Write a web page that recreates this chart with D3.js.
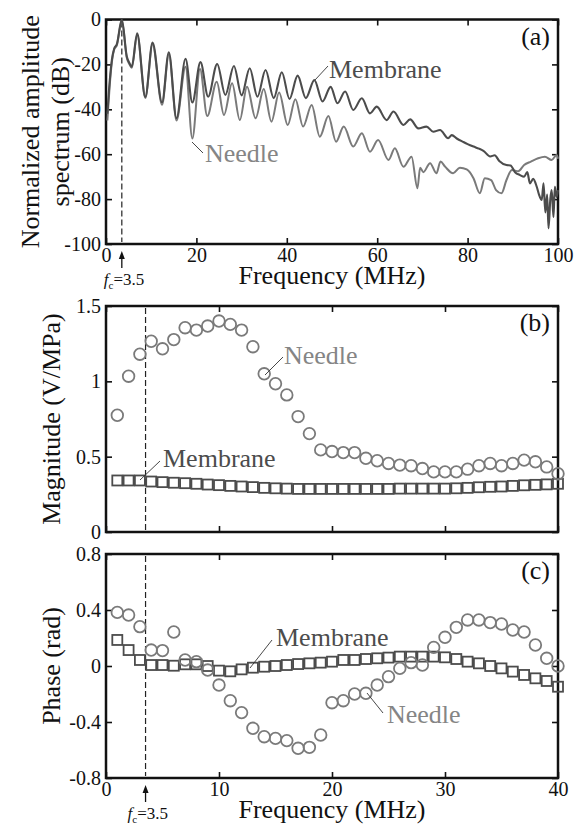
<!DOCTYPE html>
<html>
<head>
<meta charset="utf-8">
<script src="https://cdn.jsdelivr.net/npm/d3@7"></script>
<style>
  body { margin: 0; background: #fff; }
</style>
</head>
<body>
<svg id="drawing_region"></svg>
<script>
// (a) spectra, [MHz, dB]
const membraneSpectrum = [
  [0.3,-42],[0.8,-28],[1.3,-18],[1.8,-13],[2.4,-11],[3.5,0],[4.6,-16.5],[5.2,-19.5],[5.7,-21],
  [6.9,-6.2],[8.7,-34.5],[10.3,-10.3],[12.4,-37],[13.9,-14.6],[15.6,-44],[17.6,-17.5],[19.1,-37],
  [20.9,-19],[22.6,-34.4],[24.6,-19.8],[26.4,-33.6],[28.3,-20.7],[30.0,-33.8],[31.8,-21.7],
  [33.5,-34.4],[35.3,-22.5],[37.1,-35],[38.9,-23.5],[40.6,-35.4],[42.4,-25],[44.2,-35],[46.1,-27],
  [47.9,-36.5],[49.7,-30],[51.2,-37.3],[52.9,-32.1],[54.7,-40.3],[56.6,-35.1],[58.4,-41.8],
  [59.9,-38.8],[62.1,-44.8],[63.6,-41],[65.8,-47],[67.3,-44.5],[69.1,-48.5],[70.9,-47.7],
  [72.4,-50],[73.9,-49.2],[75.7,-52.9],[76.5,-51.5],[77.6,-53],[79,-54.5],[80,-55.5],[81.3,-56.6],
  [82.5,-57.5],[83.5,-58.5],[85,-61],[86,-60.5],[87,-63],[88.6,-64.8],[89.5,-65],[90.5,-68],
  [91.6,-69.3],[92.5,-70],[93.2,-68],[93.8,-73],[94.5,-71],[95.3,-74.5],[95.8,-78],[96.4,-80.4],
  [96.8,-73],[97.2,-86],[97.6,-78],[97.9,-93],[98.3,-80],[98.6,-76],[99,-88],[99.3,-74.5],
  [99.7,-79],[100,-76]
];
const needleSpectrum = [
  [0.3,-45],[0.8,-30],[1.3,-19],[1.8,-13.5],[2.4,-11.5],[3.5,-0.5],[4.6,-17],[5.2,-20],[5.7,-21.5],
  [6.9,-6.8],[8.7,-35],[10.3,-11],[12.4,-38],[13.9,-15.5],[15.6,-45],[17.6,-21],[19.1,-53],
  [20.8,-22],[22.4,-43],[24.5,-27.7],[26.1,-42.5],[27.9,-28.4],[29.6,-44.8],[31.2,-29.9],
  [33.1,-44],[34.9,-31],[36.6,-45.5],[38.3,-32.5],[40.2,-47],[41.9,-35.5],[43.6,-47.7],
  [45.5,-38.1],[47.3,-52.2],[49.2,-43],[50.9,-54.4],[52.6,-47.7],[54.7,-56.6],[56.6,-50.7],
  [58.4,-58.9],[60.2,-53.7],[62.5,-62.6],[63.9,-57.4],[65.8,-65.6],[67.6,-61.1],[68.9,-75.2],
  [69.5,-66],[70.2,-68],[71.7,-64],[73.1,-68.5],[74,-63.3],[75,-65.5],[76.8,-68.5],[78.3,-66],
  [79.8,-66.8],[81.3,-70.7],[82.7,-77.4],[83.8,-70.7],[85.2,-71.5],[86.3,-76],[87.5,-77.4],
  [88.6,-71.5],[89.8,-67],[91.2,-67.6],[92.5,-64.8],[94,-63.3],[95.6,-61.8],[97.1,-61.1],
  [98.6,-62.6],[99.7,-60.4],[100,-62]
];

// (b), (c) sensitivity at 1..40 MHz
const freqs = [1,2,3,4,5,6,7,8,9,10,11,12,13,14,15,16,17,18,19,20,
               21,22,23,24,25,26,27,28,29,30,31,32,33,34,35,36,37,38,39,40];
const needleMag = [0.775,1.034,1.18,1.266,1.216,1.277,1.356,1.34,1.367,1.40,
                   1.378,1.34,1.23,1.05,0.984,0.91,0.766,0.653,0.545,0.534,
                   0.527,0.527,0.489,0.473,0.455,0.444,0.44,0.421,0.399,0.399,
                   0.399,0.417,0.44,0.455,0.44,0.455,0.477,0.466,0.432,0.387];
const membraneMag = [0.342,0.342,0.342,0.335,0.331,0.327,0.324,0.32,0.315,0.311,
                     0.306,0.302,0.298,0.293,0.29,0.288,0.286,0.286,0.286,0.286,
                     0.286,0.286,0.286,0.286,0.286,0.288,0.288,0.288,0.288,0.288,
                     0.29,0.293,0.297,0.3,0.302,0.306,0.31,0.313,0.316,0.32];
const needlePhase = [0.383,0.364,0.281,0.114,0.11,0.243,0.043,0.031,-0.029,-0.136,
                     -0.248,-0.333,-0.445,-0.505,-0.517,-0.533,-0.588,-0.581,-0.493,-0.262,
                     -0.248,-0.2,-0.195,-0.136,-0.076,-0.017,0.024,0.007,0.133,0.205,
                     0.276,0.329,0.329,0.31,0.3,0.257,0.243,0.15,0.055,0.0];
const membranePhase = [0.186,0.114,0.043,0.007,0.007,0.002,0.012,0.012,0,-0.033,
                       -0.038,-0.024,-0.012,-0.005,0,0.007,0.014,0.019,0.024,0.031,
                       0.043,0.043,0.05,0.055,0.06,0.067,0.067,0.067,0.067,0.062,
                       0.05,0.031,0.019,0,-0.017,-0.04,-0.064,-0.088,-0.107,-0.148];

const fc = 3.5;
const specXTicks = [0, 20, 40, 60, 80, 100];
const specYTicks = [0, -20, -40, -60, -80, -100];
const freqXTicks = [0, 10, 20, 30, 40];
const magYTicks = [0, 0.5, 1, 1.5];
const phaseYTicks = [-0.8, -0.4, 0, 0.4, 0.8];

const DARK = "#4c4c4c", LIGHT = "#7a7a7a", LIGHT_TEXT = "#858585";
const SERIF = '"Liberation Serif"';
const LEFT = 106, RIGHT = 558;

const svg = d3.select("#drawing_region")
  .attr("width", 578).attr("height", 825)
  .style("font-family", SERIF);

function makePanel(cfg) {
  const x = d3.scaleLinear().domain(cfg.xdomain).range([LEFT, RIGHT]);
  const y = d3.scaleLinear().domain(cfg.ydomain).range([cfg.bottom, cfg.top]);
  const g = svg.append("g");
  const fmt = (d) => String(d);
  const none = () => "";

  const axes = [
    [d3.axisBottom(x).tickValues(cfg.xticks).tickFormat(cfg.xlabels ? fmt : none).tickPadding(4), `translate(0,${cfg.bottom})`],
    [d3.axisTop(x).tickValues(cfg.xticks).tickFormat(none), `translate(0,${cfg.top})`],
    [d3.axisLeft(y).tickValues(cfg.yticks).tickFormat(fmt).tickPadding(5), `translate(${LEFT},0)`],
    [d3.axisRight(y).tickValues(cfg.yticks).tickFormat(none), `translate(${RIGHT},0)`],
  ];
  axes.forEach(([ax, tr]) => {
    const a = g.append("g")
      .attr("transform", tr)
      .call(ax.tickSizeInner(-6).tickSizeOuter(0))
      .attr("font-size", 20)
      .attr("color", "#111");
    a.select(".domain").remove();
    a.selectAll(".tick line").attr("stroke-width", 1.6);
  });

  g.append("rect")
    .attr("x", LEFT).attr("y", cfg.top)
    .attr("width", RIGHT - LEFT).attr("height", cfg.bottom - cfg.top)
    .attr("fill", "none").attr("stroke", "#111").attr("stroke-width", 2.5);

  // dashed line at centre frequency
  g.append("line")
    .attr("x1", x(fc)).attr("x2", x(fc))
    .attr("y1", cfg.top + 2).attr("y2", cfg.bottom - 2)
    .attr("stroke", "#222").attr("stroke-width", 1.2)
    .attr("stroke-dasharray", "6,3");

  // y label (one or two lines)
  const cy = (cfg.top + cfg.bottom) / 2;
  cfg.ylabel.forEach((t, i) => {
    g.append("text")
      .attr("transform", `translate(${cfg.ylabelX[i]},${cy}) rotate(-90)`)
      .attr("text-anchor", "middle")
      .attr("font-size", 26)
      .attr("fill", "#111")
      .text(t);
  });

  g.append("text")
    .attr("x", 550).attr("y", cfg.top + 25)
    .attr("text-anchor", "end")
    .attr("font-size", 26)
    .attr("fill", "#111")
    .text(cfg.tag);

  if (cfg.xlabels) {
    g.append("text")
      .attr("x", (LEFT + RIGHT) / 2).attr("y", cfg.bottom + 40)
      .attr("text-anchor", "middle")
      .attr("font-size", 26)
      .attr("fill", "#111")
      .text("Frequency (MHz)");

    // arrow and f_c label
    const ax = x(fc);
    g.append("line")
      .attr("x1", ax).attr("x2", ax)
      .attr("y1", cfg.bottom + 12).attr("y2", cfg.bottom + 24)
      .attr("stroke", "#111").attr("stroke-width", 1.3);
    g.append("path")
      .attr("d", `M${ax},${cfg.bottom + 7}L${ax - 3},${cfg.bottom + 15}L${ax + 3},${cfg.bottom + 15}Z`)
      .attr("fill", "#111");
    const t = g.append("text")
      .attr("x", ax - 18).attr("y", cfg.bottom + 41)
      .attr("font-size", 17)
      .attr("fill", "#111");
    t.append("tspan").attr("font-style", "italic").text("f");
    t.append("tspan").attr("font-size", 11).attr("dy", 4).text("c");
    t.append("tspan").attr("dy", -4).text("=3.5");
  }
  return { g, x, y };
}

function annotate(g, text, color, tx, ty, x1, y1, x2, y2) {
  g.append("line")
    .attr("x1", x1).attr("y1", y1).attr("x2", x2).attr("y2", y2)
    .attr("stroke", "#333").attr("stroke-width", 0.9);
  g.append("text")
    .attr("x", tx).attr("y", ty)
    .attr("font-size", 26)
    .attr("fill", color)
    .text(text);
}

// ---- (a) ----
const pa = makePanel({
  top: 19.5, bottom: 244,
  xdomain: [0, 100], ydomain: [-100, 0],
  xticks: specXTicks, yticks: specYTicks, xlabels: true,
  ylabel: ["Normalized amplitude", "spectrum (dB)"], ylabelX: [39, 69],
  tag: "(a)",
});
const specLine = d3.line()
  .x((d) => pa.x(d[0]))
  .y((d) => pa.y(d[1]))
  .curve(d3.curveMonotoneX);
pa.g.append("path").datum(needleSpectrum)
  .attr("d", specLine).attr("fill", "none")
  .attr("stroke", LIGHT).attr("stroke-width", 2);
pa.g.append("path").datum(membraneSpectrum)
  .attr("d", specLine).attr("fill", "none")
  .attr("stroke", DARK).attr("stroke-width", 2.1);
annotate(pa.g, "Membrane", DARK, 329, 78, 315, 80, 328, 66);
annotate(pa.g, "Needle", LIGHT_TEXT, 205, 162, 192, 142, 203, 153);

// ---- (b) ----
const pb = makePanel({
  top: 306, bottom: 532,
  xdomain: [0, 40], ydomain: [0, 1.5],
  xticks: freqXTicks, yticks: magYTicks, xlabels: false,
  ylabel: ["Magnitude (V/MPa)"], ylabelX: [60],
  tag: "(b)",
});
pb.g.selectAll("rect.sq").data(freqs).join("rect")
  .attr("class", "sq")
  .attr("x", (d) => pb.x(d) - 5).attr("y", (d, i) => pb.y(membraneMag[i]) - 5)
  .attr("width", 10).attr("height", 10)
  .attr("fill", "none").attr("stroke", DARK).attr("stroke-width", 1.8);
pb.g.selectAll("circle").data(freqs).join("circle")
  .attr("cx", (d) => pb.x(d)).attr("cy", (d, i) => pb.y(needleMag[i]))
  .attr("r", 5.8)
  .attr("fill", "none").attr("stroke", LIGHT).attr("stroke-width", 1.8);
annotate(pb.g, "Membrane", DARK, 163, 467, 140, 480, 160, 461);
annotate(pb.g, "Needle", LIGHT_TEXT, 284, 364, 265, 375, 283, 357);

// ---- (c) ----
const pc = makePanel({
  top: 554, bottom: 778,
  xdomain: [0, 40], ydomain: [-0.8, 0.8],
  xticks: freqXTicks, yticks: phaseYTicks, xlabels: true,
  ylabel: ["Phase (rad)"], ylabelX: [60],
  tag: "(c)",
});
pc.g.selectAll("rect.sq").data(freqs).join("rect")
  .attr("class", "sq")
  .attr("x", (d) => pc.x(d) - 5).attr("y", (d, i) => pc.y(membranePhase[i]) - 5)
  .attr("width", 10).attr("height", 10)
  .attr("fill", "none").attr("stroke", DARK).attr("stroke-width", 1.8);
pc.g.selectAll("circle").data(freqs).join("circle")
  .attr("cx", (d) => pc.x(d)).attr("cy", (d, i) => pc.y(needlePhase[i]))
  .attr("r", 5.8)
  .attr("fill", "none").attr("stroke", LIGHT).attr("stroke-width", 1.8);
annotate(pc.g, "Membrane", DARK, 276, 646, 250, 668, 272, 640);
annotate(pc.g, "Needle", LIGHT_TEXT, 387, 723, 367, 693, 383, 713);

// the axis generator writes its own font-family; force the serif face on every text
svg.selectAll("g").attr("font-family", null);
svg.selectAll("text").style("font-family", SERIF);
</script>
</body>
</html>
